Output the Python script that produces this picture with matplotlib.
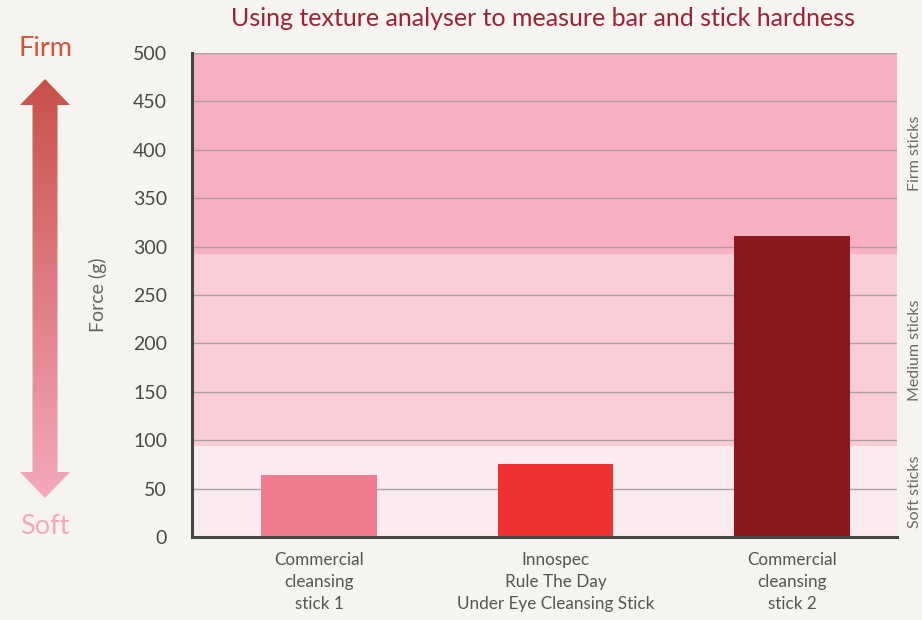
import matplotlib
matplotlib.use("Agg")
import matplotlib.pyplot as plt
import numpy as np
from matplotlib.patches import Polygon
from matplotlib.colors import LinearSegmentedColormap

# ---- data ----
categories = ["Commercial\ncleansing\nstick 1",
              "Innospec\nRule The Day\nUnder Eye Cleansing Stick",
              "Commercial\ncleansing\nstick 2"]
force_values = [64, 75, 311]
bar_colors = ["#F27A8E", "#EE3231", "#8B181D"]
band_edges = [0, 94, 292, 500]
band_labels = ["Soft sticks", "Medium sticks", "Firm sticks"]
band_colors = ["#FCEBEE", "#F9CDD8", "#F7AFC2"]
yticks = list(range(0, 501, 50))
title = "Using texture analyser to measure bar and stick hardness"

BG = "#F5F4F0"
FONT = "Lato"

fig = plt.figure(figsize=(9.22, 6.2), dpi=100, facecolor=BG)
W, H = 922, 620
ax = fig.add_axes([192 / W, 1 - 537 / H, (897 - 192) / W, (537 - 53) / H])
ax.set_facecolor(BG)

x = np.arange(len(categories))
ax.set_xlim(-0.537, 2.444)
ax.set_ylim(0, 500)

for i in range(len(band_labels)):
    ax.axhspan(band_edges[i], band_edges[i + 1], color=band_colors[i], zorder=0, lw=0)
    mid = (band_edges[i] + band_edges[i + 1]) / 2
    ax.text(1.016, mid, band_labels[i], transform=ax.get_yaxis_transform(),
            rotation=90, va="center", ha="left", fontsize=11.5, color="#6a6a6a",
            family=FONT)

for yv in yticks[1:]:
    ax.axhline(yv, color="#A8A0A2", lw=1, zorder=1)

ax.bar(x, force_values, width=0.49, color=bar_colors, zorder=2)

ax.set_yticks(yticks)
ax.set_yticklabels([str(v) for v in yticks], fontsize=14, color="#4a4a4a", family=FONT)
ax.set_xticks(x)
ax.set_xticklabels(categories, fontsize=12.3, color="#555555", family=FONT, linespacing=1.45)
ax.tick_params(axis="y", length=0, pad=18)
ax.tick_params(axis="x", length=0, pad=11)

for s in ["top", "right"]:
    ax.spines[s].set_visible(False)
for s in ["left", "bottom"]:
    ax.spines[s].set_color("#444444")
    ax.spines[s].set_linewidth(2.2)
    ax.spines[s].set_zorder(3)

ax.set_ylabel("Force (g)", fontsize=14, color="#666666", family=FONT)
ax.yaxis.set_label_coords(-0.12, 0.5)

fig.text(543 / W, 1 - 18 / H, title, ha="center", va="center", fontsize=18,
         color="#9B2335", family=FONT)

# ---- gradient arrow overlay (pixel coords) ----
ov = fig.add_axes([0, 0, 1, 1], zorder=-1)
ov.set_xlim(0, W)
ov.set_ylim(H, 0)
ov.axis("off")
ov.patch.set_alpha(0)
cx = 45
poly = [(cx, 79), (cx + 25, 105), (cx + 12.5, 105), (cx + 12.5, 472), (cx + 25, 472),
        (cx, 498), (cx - 25, 472), (cx - 12.5, 472), (cx - 12.5, 105), (cx - 25, 105)]
patch = Polygon(poly, closed=True, facecolor="none", edgecolor="none")
ov.add_patch(patch)
cmap = LinearSegmentedColormap.from_list("arr", ["#C8504A", "#F4A9BB"])
grad = np.linspace(0, 1, 256).reshape(-1, 1)
im = ov.imshow(grad, cmap=cmap, extent=(cx - 26, cx + 26, 499, 78), aspect="auto",
               origin="upper")
im.set_clip_path(patch)
ov.set_xlim(0, W)
ov.set_ylim(H, 0)
ov.text(cx, 48, "Firm", ha="center", va="center", fontsize=19.5, color="#D2553A", family=FONT)
ov.text(cx, 526, "Soft", ha="center", va="center", fontsize=19.5, color="#F4A9BB", family=FONT)

fig.savefig("out.png", dpi=100, facecolor=BG)
